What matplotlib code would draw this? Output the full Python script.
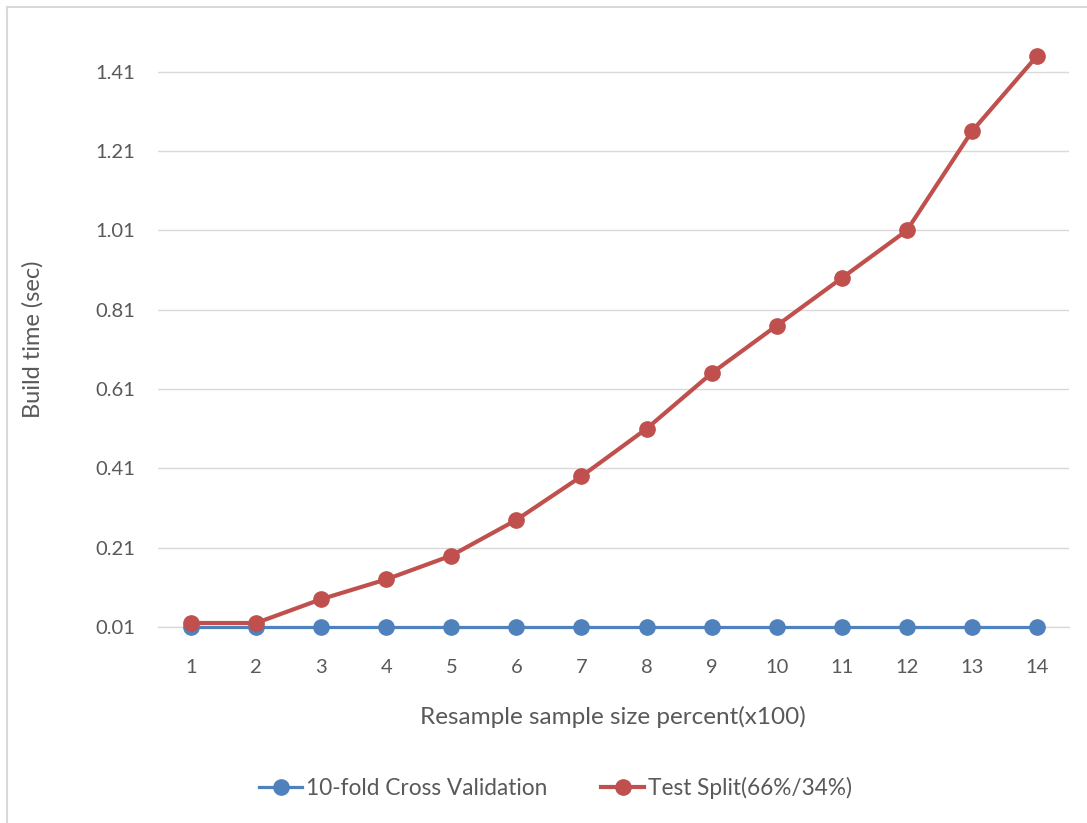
import matplotlib
matplotlib.use("Agg")
import matplotlib.pyplot as plt
from matplotlib.lines import Line2D

# Data
sizes = list(range(1, 15))
cross_validation = [0.01] * 14
test_split = [0.02, 0.02, 0.08, 0.13, 0.19, 0.28, 0.39, 0.51, 0.65, 0.77, 0.89, 1.01, 1.26, 1.45]
y_ticks = [0.01, 0.21, 0.41, 0.61, 0.81, 1.01, 1.21, 1.41]
series_names = ["10-fold Cross Validation", "Test Split(66%/34%)"]

BLUE = "#4F81BD"
RED = "#C0504D"
TEXT = "#595959"
GRID = "#D9D9D9"

plt.rcParams["font.family"] = ["Lato", "DejaVu Sans"]

fig = plt.figure(figsize=(10.87, 8.23), dpi=100)
ax = fig.add_axes([0.1458, 0.2382, 0.8381, 0.7226])

ax.plot(sizes, cross_validation, color=BLUE, lw=2.3, marker="o", ms=11,
        zorder=3, clip_on=False)
ax.plot(sizes, test_split, color=RED, lw=3.0, marker="o", ms=11,
        zorder=4, clip_on=False)

ax.set_xlim(0.5, 14.5)
ax.set_ylim(0.01, 1.51)
ax.set_xticks(sizes)
ax.set_yticks(y_ticks)
ax.set_yticklabels([f"{v:.2f}" for v in y_ticks])
ax.tick_params(axis="both", length=0, labelsize=14.5, colors=TEXT)
ax.tick_params(axis="y", pad=17)
ax.tick_params(axis="x", pad=23)
ax.grid(axis="y", color=GRID, lw=1.0)
ax.set_axisbelow(True)
for side in ("top", "right", "left"):
    ax.spines[side].set_visible(False)
ax.spines["bottom"].set_color(GRID)
ax.spines["bottom"].set_linewidth(1.0)
ax.spines["bottom"].set_zorder(1)

fig.text(0.0304, 1 - 339 / 823, "Build time (sec)", rotation=90, ha="center", va="center",
         fontsize=17, color=TEXT)
fig.text(0.564, 1 - 717 / 823, "Resample sample size percent(x100)", ha="center",
         va="center", fontsize=17.5, color=TEXT)

handles = [
    Line2D([], [], color=BLUE, lw=2.3, marker="o", ms=11),
    Line2D([], [], color=RED, lw=3.0, marker="o", ms=11),
]
fig.legend(handles, series_names, loc="center", bbox_to_anchor=(0.511, 1 - 788 / 823),
           ncol=2, frameon=False, fontsize=16.3, labelcolor=TEXT, handlelength=1.9,
           handletextpad=0.15, columnspacing=2.4)

# Outer chart border (left and top edges)
fig.add_artist(Line2D([7 / 1087, 7 / 1087], [0, 1 - 7 / 823], transform=fig.transFigure,
                      color=GRID, lw=1.5))
fig.add_artist(Line2D([7 / 1087, 1], [1 - 7 / 823, 1 - 7 / 823], transform=fig.transFigure,
                      color=GRID, lw=1.5))

fig.savefig("out.png", dpi=100, facecolor="white")
